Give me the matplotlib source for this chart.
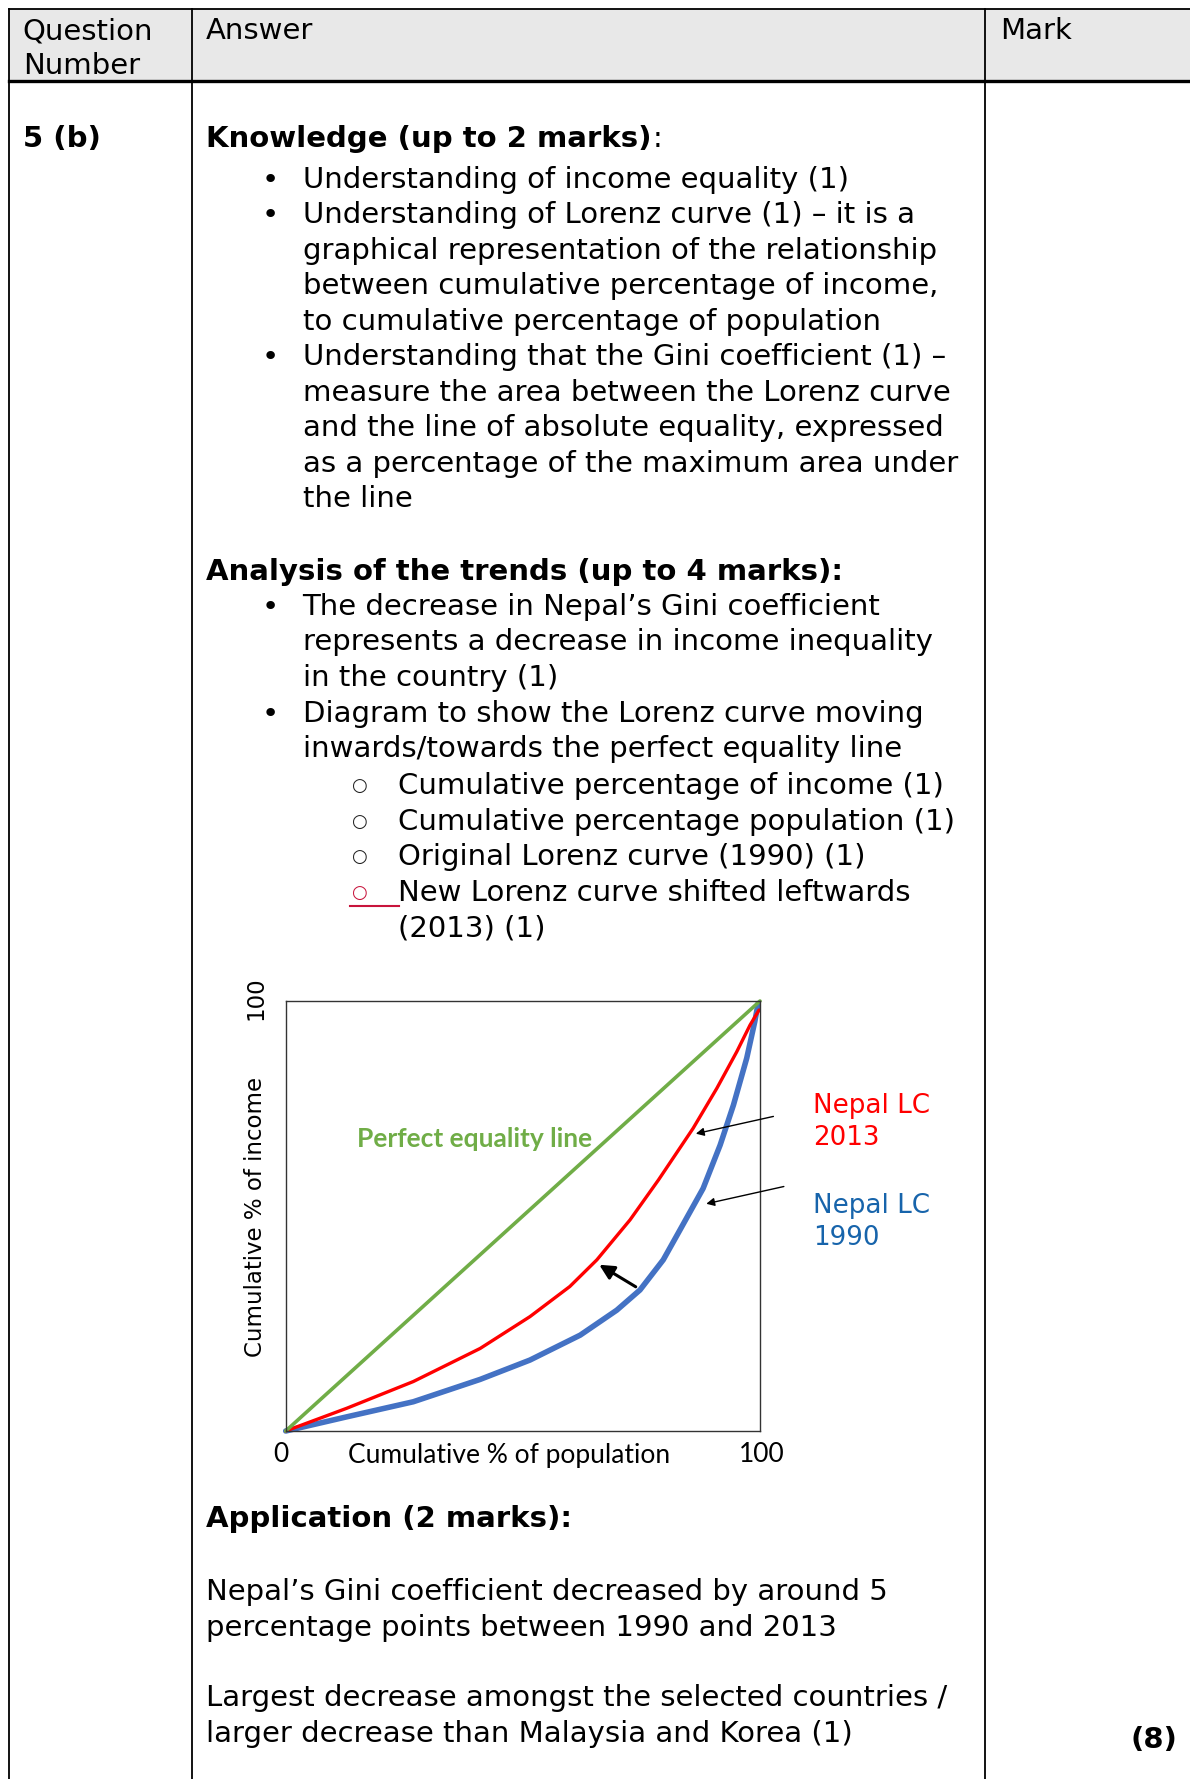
import matplotlib
matplotlib.use("Agg")
import matplotlib.pyplot as plt

# Lorenz curves (cumulative % of population -> % of income)
pop_2013 = [0, 12.9, 26.9, 41.0, 51.5, 59.9, 65.6, 72.6, 78.6, 85.9, 90.9, 95.1, 97.9, 99.8]
inc_2013 = [0, 5.3, 11.5, 19.2, 26.6, 33.6, 39.8, 49.1, 58.4, 70.4, 79.7, 88.2, 94.4, 97.9]
pop_1990 = [0, 12.9, 26.9, 41.0, 51.5, 62.1, 69.8, 74.7, 79.6, 83.1, 88.0, 91.6, 94.4, 97.2, 98.9, 99.6]
inc_1990 = [0, 3.3, 6.8, 12.0, 16.5, 22.3, 28.1, 32.8, 39.8, 46.7, 56.4, 66.5, 75.8, 86.7, 95.2, 99.4]
equality = [0, 100]

header = ["Question\nNumber", "Answer", "Mark"]

knowledge = [
    ("•", "Understanding of income equality (1)"),
    ("•", "Understanding of Lorenz curve (1) – it is a"),
    ("", "graphical representation of the relationship"),
    ("", "between cumulative percentage of income,"),
    ("", "to cumulative percentage of population"),
    ("•", "Understanding that the Gini coefficient (1) –"),
    ("", "measure the area between the Lorenz curve"),
    ("", "and the line of absolute equality, expressed"),
    ("", "as a percentage of the maximum area under"),
    ("", "the line"),
]

analysis = [
    ("•", "The decrease in Nepal’s Gini coefficient"),
    ("", "represents a decrease in income inequality"),
    ("", "in the country (1)"),
    ("•", "Diagram to show the Lorenz curve moving"),
    ("", "inwards/towards the perfect equality line"),
]

sub_points = [
    "Cumulative percentage of income (1)",
    "Cumulative percentage population (1)",
    "Original Lorenz curve (1990) (1)",
    "New Lorenz curve shifted leftwards",
]

application = [
    "Nepal’s Gini coefficient decreased by around 5",
    "percentage points between 1990 and 2013",
    "",
    "Largest decrease amongst the selected countries /",
    "larger decrease than Malaysia and Korea (1)",
]

W, H = 1190, 1779
BODY = 21
STEP = 35.5

fig = plt.figure(figsize=(W / 100, H / 100), dpi=100)
bg = fig.add_axes([0, 0, 1, 1])
bg.set_xlim(0, W)
bg.set_ylim(H, 0)
bg.axis("off")


def put(x, y, s, **kw):
    kw.setdefault("fontsize", BODY)
    kw.setdefault("va", "center_baseline")
    kw.setdefault("ha", "left")
    return bg.text(x, y, s, **kw)


# table frame
bg.add_patch(plt.Rectangle((9, 9), W - 9, 71.5, fc="#e8e8e8", ec="none"))
bg.plot([9, W], [9, 9], color="k", lw=1.3)
bg.plot([9, W], [80.5, 80.5], color="k", lw=2.4)
for x in [9, 191.5, 985]:
    bg.plot([x, x], [9, H], color="k", lw=1.3)

# header
put(22.7, 28.3, "Question")
put(22.7, 63.5, "Number")
put(206, 28.3, header[1])
put(1000, 28.3, header[2])

put(22.7, 136, "5 (b)", fontweight="bold")

# knowledge section
t = put(206, 136, "Knowledge (up to 2 marks)", fontweight="bold")
fig.canvas.draw()
bb = t.get_window_extent()
put(bb.x1 + 1, 136, ":")

y = 176.8
for b, s in knowledge:
    if b:
        put(261.8, y, b)
    put(302.6, y, s)
    y += STEP

# analysis section
put(206, 568.9, "Analysis of the trends (up to 4 marks):", fontweight="bold")
y = 604
for b, s in analysis:
    if b:
        put(261.8, y, b)
    put(302.6, y, s)
    y += STEP

y = 783.1
for i, s in enumerate(sub_points):
    col = "#c8143c" if i == 3 else "#222222"
    put(358.5, y + 3, "○", fontsize=13, color=col, ha="center", va="center")
    put(397.8, y, s)
    y += STEP
put(397.8, y, "(2013) (1)")
bg.plot([350, 399], [905.5, 905.5], color="#c8143c", lw=1.5)

# application section
put(206, 1516.4, "Application (2 marks):", fontweight="bold")
y = 1589
for s in application:
    if s:
        put(206, y, s)
    y += STEP
put(1177, 1737.4, "(8)", fontweight="bold", ha="right")

# Lorenz curve diagram
ax = fig.add_axes([285.7 / W, 1 - 1431 / H, 474.3 / W, 430 / H])
ax.set_xlim(0, 100)
ax.set_ylim(0, 100)
ax.set_xticks([])
ax.set_yticks([])
for sp in ax.spines.values():
    sp.set_color("#333333")
    sp.set_linewidth(1.0)

ax.plot(pop_1990, inc_1990, color="#4472c4", lw=4, solid_capstyle="round",
        solid_joinstyle="round", clip_on=False)
ax.plot(pop_2013, inc_2013, color="#ff0000", lw=2.4, solid_capstyle="round",
        solid_joinstyle="round", clip_on=False)
ax.plot(equality, equality, color="#70ad47", lw=2.6, solid_capstyle="round", clip_on=False)

ax.text(39.9, 67.9, "Perfect equality line", color="#70ad47", fontsize=19,
        family="Lato", fontweight="bold", ha="center", va="center")

ax.annotate("", xy=(85.9, 69.0), xytext=(103.4, 73.3),
            arrowprops=dict(arrowstyle="-|>", color="k", lw=1, mutation_scale=12),
            annotation_clip=False)
ax.annotate("", xy=(88.1, 52.7), xytext=(105.6, 57.0),
            arrowprops=dict(arrowstyle="-|>", color="k", lw=1, mutation_scale=12),
            annotation_clip=False)
ax.annotate("", xy=(65.6, 39.0), xytext=(74.3, 33.2),
            arrowprops=dict(arrowstyle="-|>", color="k", lw=2.2, mutation_scale=22),
            annotation_clip=False)

put(812.7, 1102.6, "Nepal LC", fontsize=18.8, color="#ff0000")
put(812.7, 1135, "2013", fontsize=18.8, color="#ff0000")
put(812.7, 1203, "Nepal LC", fontsize=18.8, color="#1764ab")
put(812.7, 1234.8, "1990", fontsize=18.8, color="#1764ab")

put(255.5, 1216.6, "Cumulative % of income", fontsize=16.5, rotation=90, ha="center", va="center")
put(255.5, 998, "100", fontsize=16.5, rotation=90, ha="center", va="center")
put(280.5, 1455, "0", fontsize=19, family="Lato", ha="center", va="center")
put(509, 1455, "Cumulative % of population", fontsize=19, family="Lato", ha="center", va="center")
put(761.6, 1455, "100", fontsize=19, family="Lato", ha="center", va="center")

fig.savefig("out.png", dpi=100)
